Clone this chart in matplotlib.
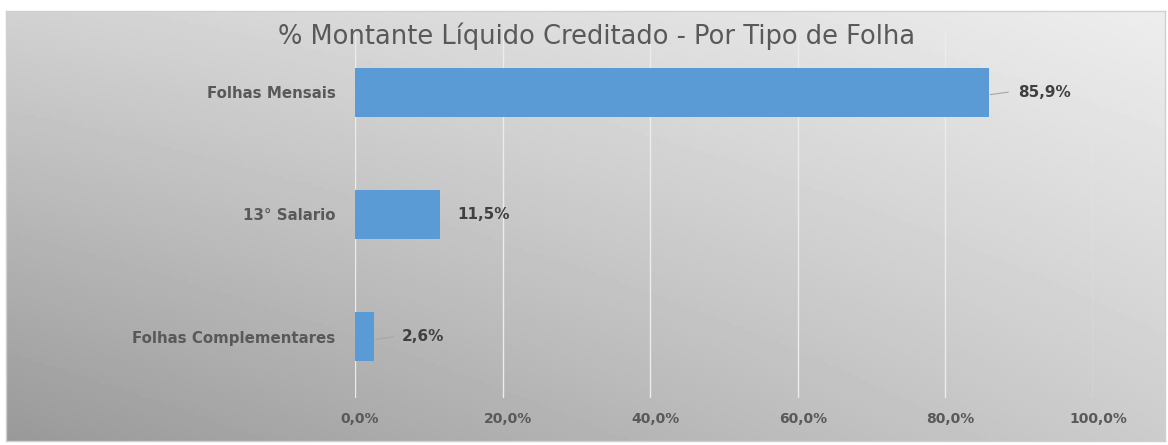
import numpy as np
import matplotlib.pyplot as plt
import matplotlib.transforms as mtransforms
from matplotlib.ticker import FuncFormatter

categorias = ['Folhas Mensais', '13° Salario', 'Folhas Complementares']
valores = [85.9, 11.5, 2.6]
rotulos = ['85,9%', '11,5%', '2,6%']
ticks_x = [0, 20, 40, 60, 80, 100]

plt.rcParams['font.family'] = ['DejaVu Sans']

fig = plt.figure(figsize=(11.68, 4.45), dpi=100)

# fundo com gradiente (claro no canto superior direito, escuro no inferior esquerdo)
bg = fig.add_axes([6 / 1168, 1 - 441 / 445, 1159 / 1168, 430 / 445])
xx, yy = np.meshgrid(np.linspace(0, 1, 300), np.linspace(0, 1, 120))
grad = 0.60 + 0.20 * xx + 0.22 * yy - 0.09 * xx * yy
bg.imshow(grad, cmap='gray', vmin=0, vmax=1, origin='lower', aspect='auto',
          extent=[0, 1, 0, 1])
bg.set_xticks([])
bg.set_yticks([])
for s in bg.spines.values():
    s.set_color('#d0d0d0')
    s.set_linewidth(1)
bg.set_zorder(0)

ax = fig.add_axes([355 / 1168, 1 - 398 / 445, 738 / 1168, 367 / 445])
ax.patch.set_alpha(0)
ax.set_zorder(1)

y = np.arange(len(categorias))
ax.barh(y, valores, height=0.4, color='#5B9BD5', zorder=3)
ax.set_ylim(len(categorias) - 0.5, -0.5)
ax.set_xlim(0, 100)
ax.set_xticks(ticks_x)
ax.xaxis.set_major_formatter(FuncFormatter(lambda v, p: f'{v:.1f}%'.replace('.', ',')))
ax.grid(axis='x', color='#ececec', linewidth=1.0, zorder=0)
ax.set_axisbelow(True)
for s in ax.spines.values():
    s.set_visible(False)
ax.tick_params(length=0)
ax.tick_params(axis='x', pad=10, labelsize=10, labelcolor='#595959')
ax.tick_params(axis='y', pad=14, labelsize=10.8, labelcolor='#595959')
ax.set_yticks(y)
ax.set_yticklabels(categorias, fontweight='bold')
desloc = mtransforms.ScaledTranslation(5 / 100, 0, fig.dpi_scale_trans)
for lab in ax.get_xticklabels():
    lab.set_fontweight('bold')
    lab.set_transform(lab.get_transform() + desloc)

# rotulos com linha de chamada (o de 11,5% fica sem linha)
afast = [3.9, 2.4, 3.8]
for i, (v, r, d) in enumerate(zip(valores, rotulos, afast)):
    if d > 3:
        ax.plot([v + 0.2, v + 2.6], [i + 0.02, i], color='#a6a6a6', linewidth=0.8, zorder=4)
    ax.text(v + d, i, r, va='center', ha='left', fontsize=11,
            fontweight='bold', color='#404040', zorder=5)

fig.text(597 / 1168, 1 - 36 / 445, '% Montante Líquido Creditado - Por Tipo de Folha',
         ha='center', va='center', fontsize=18.5, color='#595959', zorder=6)

fig.savefig('out.png', dpi=100)
